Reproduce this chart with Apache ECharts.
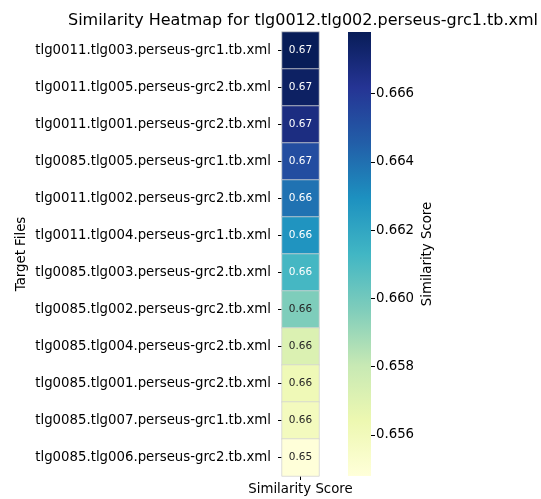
<!DOCTYPE html>
<html>
<head>
<meta charset="utf-8">
<script src="https://cdn.jsdelivr.net/npm/echarts@6/dist/echarts.min.js"></script>
<style>html,body{margin:0;padding:0;background:#fff}#c{width:541px;height:499px}</style>
</head>
<body>
<div id="c"></div>
<script>
const targetFiles = [
  'tlg0011.tlg003.perseus-grc1.tb.xml',
  'tlg0011.tlg005.perseus-grc2.tb.xml',
  'tlg0011.tlg001.perseus-grc2.tb.xml',
  'tlg0085.tlg005.perseus-grc1.tb.xml',
  'tlg0011.tlg002.perseus-grc2.tb.xml',
  'tlg0011.tlg004.perseus-grc1.tb.xml',
  'tlg0085.tlg003.perseus-grc2.tb.xml',
  'tlg0085.tlg002.perseus-grc2.tb.xml',
  'tlg0085.tlg004.perseus-grc2.tb.xml',
  'tlg0085.tlg001.perseus-grc2.tb.xml',
  'tlg0085.tlg007.perseus-grc1.tb.xml',
  'tlg0085.tlg006.perseus-grc2.tb.xml'
];
const columns = ['Similarity Score'];
const scores = [0.6678, 0.6675, 0.6667, 0.6652, 0.6639, 0.6628, 0.6612, 0.6597, 0.6572, 0.6562, 0.6559, 0.6548];
const vmin = 0.6548, vmax = 0.6678;
const colorbarTicks = [0.656, 0.658, 0.660, 0.662, 0.664, 0.666];
const ylgnbu = ['#ffffd9','#edf8b1','#c7e9b4','#7fcdbb','#41b6c4','#1d91c0','#225ea8','#253494','#081d58'];

const font = 'DejaVu Sans';
const chart = echarts.init(document.getElementById('c'));
const heatData = scores.map((v, i) => ({
  value: [0, i, v],
  label: { color: v > 0.6605 ? '#ffffff' : '#262626' }
}));

chart.setOption({
  backgroundColor: '#fff',
  animation: false,
  textStyle: { fontFamily: font },
  title: {
    text: 'Similarity Heatmap for tlg0012.tlg002.perseus-grc1.tb.xml',
    left: 298, top: 8, textAlign: 'center',
    textStyle: { fontFamily: font, fontSize: 16, fontWeight: 'normal', color: '#000' }
  },
  grid: [
    { left: 282, top: 32, width: 37, height: 444 },
    { left: 348, top: 32, width: 23, height: 444 }
  ],
  xAxis: [
    { type: 'category', gridIndex: 0, data: columns,
      axisLine: { show: false },
      axisTick: { show: true, alignWithLabel: true, length: 4, lineStyle: { color: '#000' } },
      axisLabel: { fontFamily: font, fontSize: 13.3, color: '#000', margin: 7 } },
    { type: 'category', gridIndex: 1, data: [''], show: false }
  ],
  yAxis: [
    { type: 'category', gridIndex: 0, data: targetFiles, inverse: true,
      axisLine: { show: false },
      axisTick: { show: true, alignWithLabel: true, length: 4, lineStyle: { color: '#000' } },
      axisLabel: { fontFamily: font, fontSize: 13.3, color: '#000', margin: 11 },
      name: 'Target Files', nameLocation: 'middle', nameGap: 254, nameRotate: 90,
      nameTextStyle: { fontFamily: font, fontSize: 13.3, color: '#000' } },
    { type: 'value', gridIndex: 1, min: vmin, max: vmax, position: 'right',
      splitLine: { show: false },
      axisLine: { show: false },
      axisTick: { show: true, length: 4, customValues: colorbarTicks, lineStyle: { color: '#000' } },
      axisLabel: { fontFamily: font, fontSize: 13.3, color: '#000', margin: 5,
        customValues: colorbarTicks, formatter: v => v.toFixed(3) },
      name: 'Similarity Score', nameLocation: 'middle', nameGap: 50, nameRotate: 90,
      nameTextStyle: { fontFamily: font, fontSize: 13.3, color: '#000' } }
  ],
  visualMap: {
    show: false, type: 'continuous', seriesIndex: 0, dimension: 2,
    min: vmin, max: vmax, inRange: { color: ylgnbu }
  },
  series: [
    { type: 'heatmap', xAxisIndex: 0, yAxisIndex: 0, data: heatData,
      itemStyle: { borderColor: '#d3d3d3', borderWidth: 0.8 },
      label: { show: true, fontFamily: font, fontSize: 10.5,
        formatter: p => p.value[2].toFixed(2) },
      emphasis: { disabled: true } },
    { type: 'custom', xAxisIndex: 1, yAxisIndex: 1, data: [[0, vmax]],
      renderItem: (params, api) => {
        const top = api.coord([0, vmax]);
        const bot = api.coord([0, vmin]);
        const w = api.size([1, 0])[0];
        return {
          type: 'rect',
          shape: { x: top[0] - w / 2, y: top[1], width: w, height: bot[1] - top[1] },
          style: { fill: new echarts.graphic.LinearGradient(0, 1, 0, 0,
            ylgnbu.map((c, i) => ({ offset: i / (ylgnbu.length - 1), color: c }))) }
        };
      } }
  ]
});
</script>
</body>
</html>
